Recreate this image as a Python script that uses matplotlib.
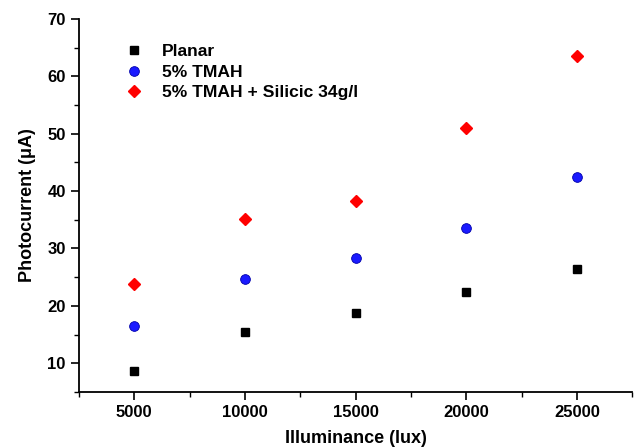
import matplotlib
matplotlib.use("Agg")
import matplotlib.pyplot as plt
from matplotlib.ticker import MultipleLocator

plt.rcParams['font.family'] = ['Liberation Sans', 'DejaVu Sans']
plt.rcParams['font.weight'] = 'bold'

illuminance = [5000, 10000, 15000, 20000, 25000]
planar = [8.6, 15.4, 18.7, 22.5, 26.5]
tmah = [16.5, 24.7, 28.3, 33.6, 42.5]
silicic = [23.8, 35.2, 38.2, 51.0, 63.5]

fig = plt.figure(figsize=(6.36, 4.48), dpi=100)
ax = fig.add_axes([0.124, 0.125, 0.870, 0.833])

ax.plot(illuminance, planar, linestyle='none', marker='s', markersize=6,
        color='black', label='Planar')
ax.plot(illuminance, tmah, linestyle='none', marker='o', markersize=7,
        markerfacecolor='#1a1aff', markeredgecolor='#0000aa', markeredgewidth=0.6,
        label='5% TMAH')
ax.plot(illuminance, silicic, linestyle='none', marker='D', markersize=6.5,
        color='#ff0000', label='5% TMAH + Silicic 34g/l')

ax.set_xlim(2500, 27500)
ax.set_ylim(5, 70)
ax.xaxis.set_major_locator(MultipleLocator(5000))
ax.xaxis.set_minor_locator(MultipleLocator(2500))
ax.yaxis.set_major_locator(MultipleLocator(10))
ax.yaxis.set_minor_locator(MultipleLocator(5))

for s in ['top', 'right']:
    ax.spines[s].set_visible(False)
for s in ['left', 'bottom']:
    ax.spines[s].set_linewidth(1.3)

ax.tick_params(axis='both', which='major', direction='out', length=6, width=1.2,
               labelsize=12)
ax.tick_params(axis='both', which='minor', direction='out', length=3.5, width=1.0)
for lab in ax.get_xticklabels() + ax.get_yticklabels():
    lab.set_fontweight('bold')

ax.set_xlabel('Illuminance (lux)', fontsize=13, fontweight='bold', labelpad=7)
ax.set_ylabel('Photocurrent (\u03bcA)', fontsize=13, fontweight='bold', labelpad=8)

leg = ax.legend(loc='upper left', bbox_to_anchor=(0.055, 0.975), frameon=False,
                prop={'weight': 'bold', 'size': 12.6}, handlelength=1.0,
                handletextpad=1.1, labelspacing=0.3)

fig.savefig('out.png', dpi=100)
